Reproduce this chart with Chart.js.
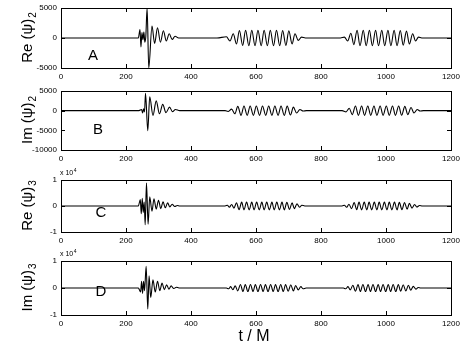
<!DOCTYPE html>
<html>
<head>
<meta charset="utf-8">
<script src="https://cdn.jsdelivr.net/npm/chart.js@4/dist/chart.umd.min.js"></script>
<style>
  body { margin: 0; background: #fff; width: 463px; height: 347px; position: relative; overflow: hidden; }
  .panel { position: absolute; left: 0; width: 463px; }
</style>
</head>
<body>
<div class="panel" style="top:0;height:85px"><canvas id="panelA"></canvas></div>
<div class="panel" style="top:85px;height:85px"><canvas id="panelB"></canvas></div>
<div class="panel" style="top:168px;height:80px"><canvas id="panelC"></canvas></div>
<div class="panel" style="top:248px;height:99px"><canvas id="panelD"></canvas></div>
<script>
// x axis (t / M)
const xTicks = [0, 200, 400, 600, 800, 1000, 1200];

// Re(psi)_2  -- extrema
const tReA = [0, 238, 243, 246, 249, 252, 255, 258, 261, 265, 270, 280, 288, 297, 306, 315, 324, 333, 342, 351, 362,
  480, 509, 520, 530, 540, 549, 559, 568, 578, 587, 597, 606, 616, 625, 635, 644, 654, 663, 673, 682, 692, 701, 711, 720, 730, 740, 752,
  860, 872, 882, 892, 901, 911, 920, 930, 939, 949, 958, 968, 977, 987, 996, 1006, 1015, 1025, 1034, 1044, 1053, 1063, 1072, 1082, 1091, 1100, 1110, 1200];
const reA = [0, 0, 1400, -1500, 900, -300, 1000, -700, 300, 5000, -5000, 2000, -900, 1700, -700, 1200, -500, 700, -250, 300, 0,
  0, 200, -500, 700, -1000, 1250, -1250, 1300, -1300, 1300, -1300, 1300, -1300, 1300, -1300, 1300, -1300, 1300, -1300, 1250, -1250, 1200, -1000, 700, -400, 150, 0,
  0, 150, -500, 800, -1100, 1300, -1300, 1300, -1300, 1300, -1300, 1300, -1300, 1300, -1300, 1300, -1300, 1300, -1300, 1250, -1200, 1150, -1000, 700, -500, 150, 0, 0];

// Im(psi)_2  -- panel B
const tImB = [0, 240, 248, 251, 254, 257, 260, 267, 273, 283, 293, 303, 313, 323, 334, 343, 352, 365,
  505, 514, 525, 535, 544, 554, 563, 573, 582, 592, 601, 611, 620, 630, 639, 649, 658, 668, 677, 687, 696, 706, 715, 725, 735, 745, 755,
  865, 877, 887, 896, 906, 915, 925, 934, 944, 953, 963, 972, 982, 991, 1001, 1010, 1020, 1029, 1039, 1048, 1058, 1067, 1077, 1086, 1096, 1105, 1115, 1200];
const imB = [0, 0, 300, -600, 500, -300, 4400, -5100, 3500, -1200, 2500, -800, 1600, -500, 900, -250, 300, 0,
  0, -200, 400, -800, 1100, -1200, 1200, -1200, 1200, -1200, 1200, -1200, 1200, -1200, 1200, -1200, 1200, -1200, 1200, -1200, 1150, -1100, 900, -600, 300, -100, 0,
  0, -300, 600, -1000, 1200, -1200, 1200, -1200, 1200, -1200, 1200, -1200, 1200, -1200, 1200, -1200, 1200, -1200, 1200, -1150, 1100, -1000, 800, -600, 300, -100, 0, 0];

// Re(psi)_3 in units of 10^4  -- panel C
const tReC = [0, 238, 244, 247, 250, 253, 256, 259, 263, 268, 273, 280, 286, 293, 300, 307, 314, 321, 328, 335, 342, 350, 358, 365,
  505, 512, 518, 525, 532, 540, 548, 556, 563, 571, 579, 587, 594, 602, 610, 618, 625, 633, 641, 649, 656, 664, 672, 680, 687, 695, 703, 711, 718, 726, 734, 741, 750,
  865, 872, 879, 886, 894, 902, 910, 917, 925, 933, 941, 948, 956, 964, 972, 979, 987, 995, 1003, 1010, 1018, 1026, 1034, 1041, 1049, 1057, 1065, 1072, 1080, 1088, 1095, 1103, 1112, 1200];
const reC = [0, 0, 0.25, -0.3, 0.3, -0.25, 0.15, -0.72, 0.88, -0.7, 0.35, -0.2, 0.28, -0.12, 0.22, -0.1, 0.16, -0.07, 0.12, -0.04, 0.07, -0.02, 0.02, 0,
  0, 0.03, -0.05, 0.06, -0.08, 0.12, -0.14, 0.15, -0.15, 0.15, -0.15, 0.15, -0.15, 0.15, -0.15, 0.15, -0.15, 0.15, -0.15, 0.15, -0.15, 0.15, -0.15, 0.15, -0.15, 0.14, -0.13, 0.12, -0.1, 0.08, -0.05, 0.03, 0,
  0, 0.03, -0.05, 0.07, -0.1, 0.13, -0.14, 0.15, -0.15, 0.15, -0.15, 0.15, -0.15, 0.15, -0.15, 0.15, -0.15, 0.15, -0.15, 0.15, -0.15, 0.15, -0.15, 0.14, -0.14, 0.13, -0.12, 0.1, -0.08, 0.06, -0.04, 0.02, 0, 0];

// Im(psi)_3 in units of 10^4  -- panel D
const tImD = [0, 238, 245, 248, 251, 254, 257, 262, 267, 271, 276, 283, 290, 297, 304, 311, 318, 325, 332, 339, 347, 355, 363,
  509, 516, 522, 529, 536, 544, 552, 560, 567, 575, 583, 591, 598, 606, 614, 622, 629, 637, 645, 653, 660, 668, 676, 684, 691, 699, 707, 715, 722, 730, 738, 745, 754,
  869, 876, 883, 890, 898, 906, 914, 921, 929, 937, 945, 952, 960, 968, 976, 983, 991, 999, 1007, 1014, 1022, 1030, 1038, 1045, 1053, 1061, 1069, 1076, 1084, 1092, 1099, 1107, 1116, 1200];
const imD = [0, 0, -0.15, 0.25, -0.2, 0.25, -0.1, 0.8, -0.78, 0.45, -0.35, 0.3, -0.15, 0.25, -0.1, 0.18, -0.06, 0.12, -0.04, 0.08, -0.02, 0.03, 0,
  0, -0.03, 0.05, -0.06, 0.08, -0.11, 0.13, -0.13, 0.13, -0.13, 0.13, -0.13, 0.13, -0.13, 0.13, -0.13, 0.13, -0.13, 0.13, -0.13, 0.13, -0.13, 0.13, -0.13, 0.13, -0.12, 0.12, -0.11, 0.09, -0.07, 0.05, -0.03, 0,
  0, -0.03, 0.05, -0.07, 0.1, -0.12, 0.13, -0.13, 0.13, -0.13, 0.13, -0.13, 0.13, -0.13, 0.13, -0.13, 0.13, -0.13, 0.13, -0.13, 0.13, -0.13, 0.13, -0.12, 0.12, -0.11, 0.1, -0.08, 0.06, -0.04, 0.02, 0, 0, 0];

// y tick labels per panel
const yTicksA = [-5000, 0, 5000];
const yTicksB = [-10000, -5000, 0, 5000];
const yTicksC = [-1, 0, 1];
const yTicksD = [-1, 0, 1];

const FONT = "'Liberation Sans', Arial, Helvetica, sans-serif";

// frame, inward ticks, labels drawn like the MATLAB figure
function framePlugin(cfg) {
  return {
    id: 'frame',
    afterDraw(chart) {
      const ctx = chart.ctx;
      const a = chart.chartArea;
      const xs = chart.scales.x, ys = chart.scales.y;
      ctx.save();
      ctx.strokeStyle = '#000';
      ctx.lineWidth = 1;
      ctx.strokeRect(Math.round(a.left) + 0.5, Math.round(a.top) + 0.5, Math.round(a.right - a.left), Math.round(a.bottom - a.top));
      ctx.beginPath();
      xs.ticks.forEach(t => {
        const px = Math.round(xs.getPixelForValue(t.value)) + 0.5;
        ctx.moveTo(px, a.bottom); ctx.lineTo(px, a.bottom - 4);
        ctx.moveTo(px, a.top); ctx.lineTo(px, a.top + 4);
      });
      ys.ticks.forEach(t => {
        const py = Math.round(ys.getPixelForValue(t.value)) + 0.5;
        ctx.moveTo(a.left, py); ctx.lineTo(a.left + 4, py);
        ctx.moveTo(a.right, py); ctx.lineTo(a.right - 4, py);
      });
      ctx.stroke();

      ctx.fillStyle = '#000';
      // y title with subscript
      const cy = (a.top + a.bottom) / 2;
      ctx.translate(27, cy);
      ctx.rotate(-Math.PI / 2);
      ctx.font = '15px ' + FONT;
      const w1 = ctx.measureText(cfg.title).width;
      ctx.font = '10px ' + FONT;
      const w2 = ctx.measureText(cfg.sub).width;
      const x0 = -(w1 + w2) / 2;
      ctx.textBaseline = 'alphabetic';
      ctx.textAlign = 'left';
      ctx.font = '15px ' + FONT;
      ctx.fillText(cfg.title, x0, 5);
      ctx.font = '10px ' + FONT;
      ctx.fillText(cfg.sub, x0 + w1 + 1, 9);
      ctx.setTransform(1, 0, 0, 1, 0, 0);

      // panel letter
      ctx.font = '15px ' + FONT;
      ctx.textAlign = 'center';
      ctx.textBaseline = 'middle';
      ctx.fillText(cfg.letter, a.left + cfg.lx, a.top + cfg.ly);

      // exponent label
      if (cfg.exp) {
        ctx.textAlign = 'left';
        ctx.textBaseline = 'alphabetic';
        ctx.font = '7px ' + FONT;
        ctx.fillText('x 10', a.left - 1, a.top - 5);
        const w = ctx.measureText('x 10').width;
        ctx.font = '5px ' + FONT;
        ctx.fillText('4', a.left - 1 + w + 0.5, a.top - 8);
      }
      // x title
      if (cfg.xTitle) {
        ctx.font = '16px ' + FONT;
        ctx.textAlign = 'center';
        ctx.textBaseline = 'middle';
        ctx.fillText(cfg.xTitle, (a.left + a.right) / 2 - 2, a.bottom + 22);
      }
      ctx.restore();
    }
  };
}

function makePanel(id, t, v, cfg) {
  new Chart(document.getElementById(id), {
    type: 'line',
    data: {
      datasets: [{
        data: t.map((x, i) => ({ x: x, y: v[i] })),
        borderColor: '#000',
        borderWidth: 1.1,
        pointRadius: 0,
        cubicInterpolationMode: 'monotone',
        fill: false
      }]
    },
    options: {
      responsive: true,
      maintainAspectRatio: false,
      animation: false,
      layout: { padding: { top: cfg.top, right: 12, bottom: cfg.bottom, left: 0 } },
      plugins: { legend: { display: false }, tooltip: { enabled: false } },
      scales: {
        x: {
          type: 'linear', min: 0, max: 1200,
          grid: { display: false, drawTicks: false },
          border: { display: false },
          afterBuildTicks: s => { s.ticks = xTicks.map(x => ({ value: x })); },
          ticks: { padding: 4, color: '#000', maxRotation: 0, font: { size: 8, family: FONT }, callback: val => String(val) },
          afterFit: s => { s.height = 14; s.paddingLeft = 0; s.paddingRight = 0; }
        },
        y: {
          min: cfg.min, max: cfg.max,
          grid: { display: false, drawTicks: false },
          border: { display: false },
          afterBuildTicks: s => { s.ticks = cfg.ticks.map(y => ({ value: y })); },
          ticks: { padding: 4, color: '#000', font: { size: 8, family: FONT }, callback: val => String(val) },
          afterFit: s => { s.width = 61; s.paddingTop = 0; s.paddingBottom = 0; }
        }
      }
    },
    plugins: [framePlugin(cfg)]
  });
}

makePanel('panelA', tReA, reA, { min: -5000, max: 5000, ticks: yTicksA, top: 8, bottom: 3, title: 'Re (\u03C8)', sub: '2', letter: 'A', lx: 32, ly: 48 });
makePanel('panelB', tImB, imB, { min: -10000, max: 5000, ticks: yTicksB, top: 6, bottom: 6, title: 'Im (\u03C8)', sub: '2', letter: 'B', lx: 37, ly: 39 });
makePanel('panelC', tReC, reC, { min: -1, max: 1, ticks: yTicksC, top: 12, bottom: 2, title: 'Re (\u03C8)', sub: '3', letter: 'C', lx: 40, ly: 33, exp: true });
makePanel('panelD', tImD, imD, { min: -1, max: 1, ticks: yTicksD, top: 13, bottom: 18, title: 'Im (\u03C8)', sub: '3', letter: 'D', lx: 40, ly: 31, exp: true, xTitle: 't / M' });
</script>
</body>
</html>
